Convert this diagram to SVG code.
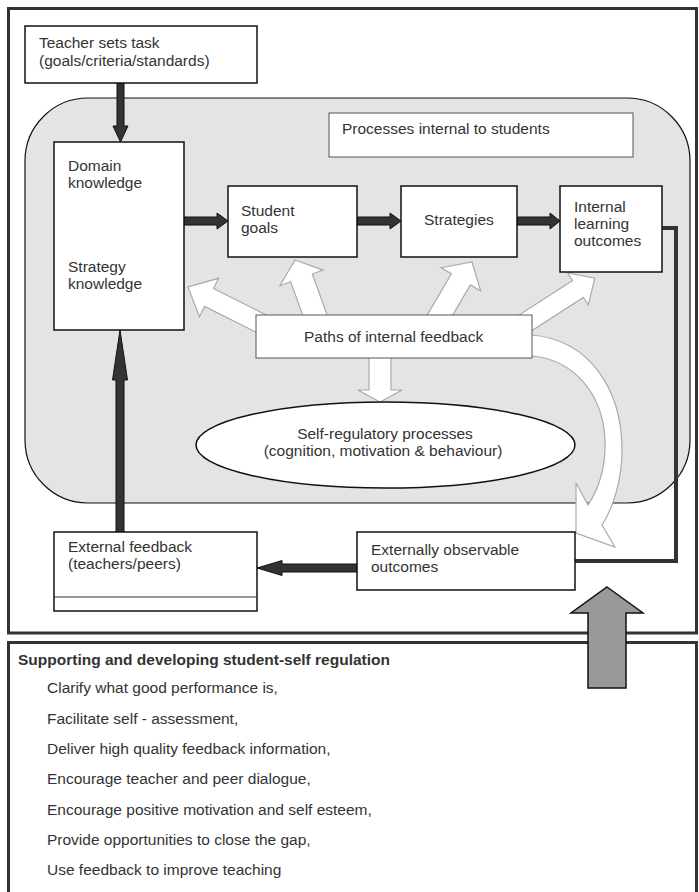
<svg xmlns="http://www.w3.org/2000/svg" width="699" height="892" viewBox="0 0 699 892">
<style>
text{font-family:"Liberation Sans",Arial,sans-serif;font-size:15.5px;fill:#333}
.b{font-weight:bold}
.box{fill:#fff;stroke:#111;stroke-width:1.5}
.tbox{fill:#fff;stroke:#555;stroke-width:1}
.frame{fill:none;stroke:#333;stroke-width:3}
.dark{fill:#333;stroke:#111;stroke-width:1}
.wa{fill:#fff;stroke:#aaa;stroke-width:1.2;stroke-linejoin:miter}
.mid{text-anchor:middle}
</style>
<rect width="699" height="892" fill="#fff"/>
<rect class="frame" x="8.5" y="8.5" width="688" height="624.5"/>
<rect class="frame" x="8.5" y="642.5" width="688" height="262"/>
<rect id="internal-region" x="25" y="98" width="665" height="405" rx="63" ry="63" fill="#e4e4e4" stroke="#111" stroke-width="1.2"/>

<g id="feedback-paths">
<polygon class="wa" points="280.5,322.1 213.5,288.6 218.6,278.3 188,287 199.4,316.7 204.5,306.4 271.5,339.9"/>
<polygon class="wa" points="336.1,339.8 312.3,274 323.1,270.1 295,260 279.9,285.7 290.7,281.8 314.5,347.6"/>
<polygon class="wa" points="432.5,349.6 470.4,284.9 480.7,290.9 472,262 441.1,267.7 451.4,273.7 413.5,338.4"/>
<polygon class="wa" points="511.9,343.4 583.4,297.4 588.3,305 594.8,278.2 567.7,273 572.6,280.6 501.1,326.6"/>
<polygon class="wa" points="369,350 391,350 391,390 402,390 380,402 358,390 369,390"/>
<path class="wa" d="M525,335 L532,335 C590,340 622,390 622,450 C622,480 613,508 602,525 L615,547 L576,533 L576,483 L588,505 C598,490 606,470 605,440 C603,395 575,360 532,356 L525,356 Z"/>
</g>

<g id="connectors">
<polygon class="dark" points="117,83 124,83 124,126 128,126 120.5,142 113,126 117,126"/>
<polygon class="dark" points="184,217 217,217 217,213 228,221 217,229 217,225 184,225"/>
<polygon class="dark" points="357,217 390,217 390,213 401,221 390,229 390,225 357,225"/>
<polygon class="dark" points="517,217 550,217 550,213 560,221 550,229 550,225 517,225"/>
<polyline points="662,228 676,228 676,561 575,561" fill="none" stroke="#333" stroke-width="4"/>
<polygon class="dark" points="357,564 282,564 282,560.5 257,568 282,575.5 282,572 357,572"/>
<polygon class="dark" points="116,532 124,532 124,380 127.5,380 120,330 112.5,380 116,380"/>
</g>

<g id="teacher">
<rect class="box" x="25" y="26" width="232" height="57"/>
<text x="39" y="48">Teacher sets task</text>
<text x="39" y="66">(goals/criteria/standards)</text>
</g>
<g id="processes-label">
<rect class="tbox" x="329" y="113" width="304" height="44"/>
<text x="342" y="134">Processes internal to students</text>
</g>
<g id="knowledge">
<rect class="box" x="54" y="142" width="130" height="188"/>
<text x="68" y="171">Domain</text>
<text x="68" y="188">knowledge</text>
<text x="68" y="272">Strategy</text>
<text x="68" y="289">knowledge</text>
</g>
<g id="student-goals">
<rect class="box" x="228" y="186" width="129" height="71"/>
<text x="241" y="216">Student</text>
<text x="241" y="233">goals</text>
</g>
<g id="strategies">
<rect class="box" x="401" y="186" width="116" height="71"/>
<text x="424" y="225">Strategies</text>
</g>
<g id="internal-outcomes">
<rect class="box" x="560" y="186" width="102" height="86"/>
<text x="574" y="212">Internal</text>
<text x="574" y="229">learning</text>
<text x="574" y="246">outcomes</text>
</g>
<g id="paths-label">
<rect class="tbox" x="256" y="315" width="276" height="43" stroke="#444"/>
<text x="304" y="342">Paths of internal feedback</text>
</g>
<g id="self-regulation">
<ellipse cx="385.5" cy="445" rx="189.5" ry="43" fill="#fff" stroke="#111" stroke-width="1.5"/>
<text class="mid" x="385" y="439">Self-regulatory processes</text>
<text class="mid" x="383" y="456">(cognition, motivation &amp; behaviour)</text>
</g>
<g id="external-feedback">
<rect class="box" x="54" y="532" width="203" height="79" stroke="#333" stroke-width="1.2"/>
<line x1="54" y1="597" x2="257" y2="597" stroke="#333" stroke-width="1.2"/>
<text x="68" y="552">External feedback</text>
<text x="68" y="569">(teachers/peers)</text>
</g>
<g id="observable-outcomes">
<rect class="box" x="357" y="532" width="218" height="58"/>
<text x="371" y="555">Externally observable</text>
<text x="371" y="572">outcomes</text>
</g>

<g id="support-arrow">
<polygon points="607,587 643,613 626,613 626,688 588,688 588,613 571,613" fill="#999" stroke="#111" stroke-width="1.5"/>
</g>

<g id="support-list">
<text class="b" x="18" y="665">Supporting and developing student-self regulation</text>
<text x="47" y="693">Clarify what good performance is,</text>
<text x="47" y="724">Facilitate self - assessment,</text>
<text x="47" y="754">Deliver high quality feedback information,</text>
<text x="47" y="784">Encourage teacher and peer dialogue,</text>
<text x="47" y="815">Encourage positive motivation and self esteem,</text>
<text x="47" y="845">Provide opportunities to close the gap,</text>
<text x="47" y="875">Use feedback to improve teaching</text>
</g>
</svg>
